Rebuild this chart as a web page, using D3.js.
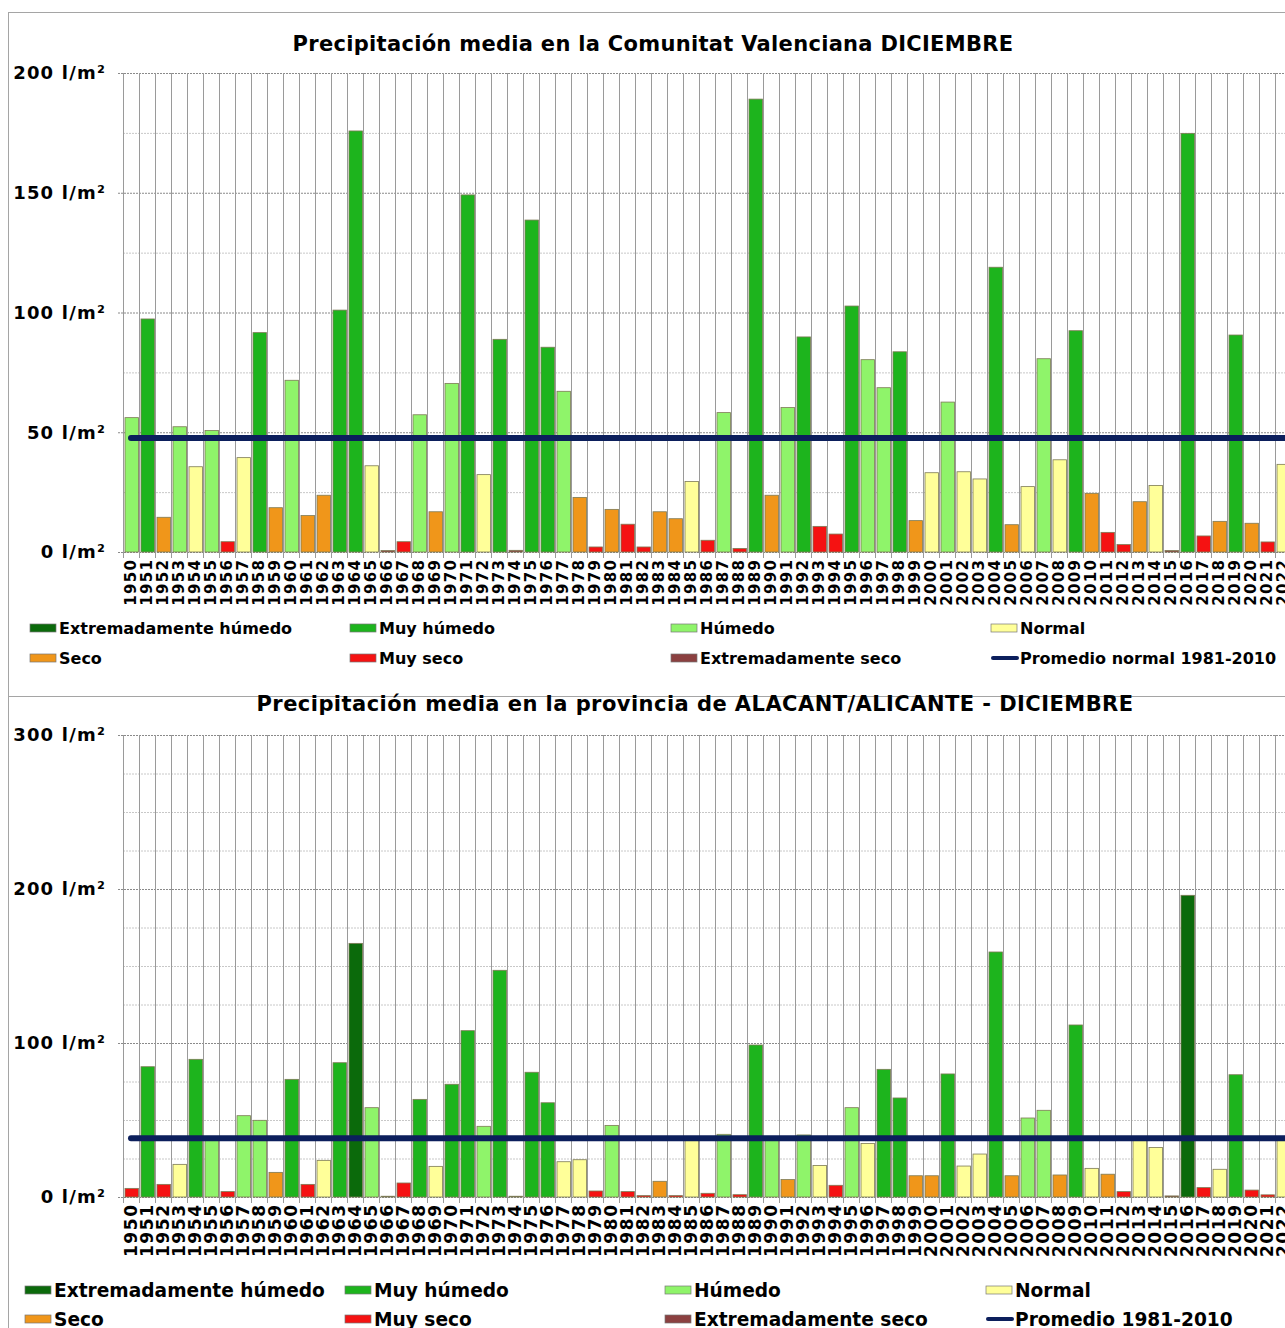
<!DOCTYPE html>
<html lang="es">
<head>
<meta charset="UTF-8">
<title>Precipitación media DICIEMBRE</title>
<script src="https://d3js.org/d3.v7.min.js"></script>
<style>
  body { margin: 0; overflow: hidden; background: #fff; }
  svg { display: block; font-family: "DejaVu Sans", Verdana, sans-serif; font-weight: bold; }
</style>
</head>
<body>
<svg id="chart" width="1300" height="1328"></svg>
<script>
// years shown on both charts (the right end is cut by the picture)
var years = [1950, 1951, 1952, 1953, 1954, 1955, 1956, 1957, 1958, 1959,
  1960, 1961, 1962, 1963, 1964, 1965, 1966, 1967, 1968, 1969,
  1970, 1971, 1972, 1973, 1974, 1975, 1976, 1977, 1978, 1979,
  1980, 1981, 1982, 1983, 1984, 1985, 1986, 1987, 1988, 1989,
  1990, 1991, 1992, 1993, 1994, 1995, 1996, 1997, 1998, 1999,
  2000, 2001, 2002, 2003, 2004, 2005, 2006, 2007, 2008, 2009,
  2010, 2011, 2012, 2013, 2014, 2015, 2016, 2017, 2018, 2019,
  2020, 2021, 2022];

var categories = ["Extremadamente húmedo", "Muy húmedo", "Húmedo", "Normal",
  "Seco", "Muy seco", "Extremadamente seco"];
var catCodes = ["EH", "MH", "H", "N", "S", "MS", "ES"];
var catColors = ["#0b6a0b", "#1db41d", "#8ff46a", "#ffff99", "#f0961a", "#f51212", "#8b4040"];

// Comunitat Valenciana, l/m2
var cvValues = [56.1, 97.3, 14.5, 52.3, 35.6, 50.7, 4.3, 39.4, 91.6, 18.5,
  71.7, 15.2, 23.7, 101.0, 175.8, 36.0, 0.6, 4.3, 57.3, 16.8,
  70.4, 149.1, 32.3, 88.8, 0.7, 138.6, 85.5, 67.1, 22.8, 2.1,
  17.8, 11.6, 2.1, 16.8, 13.9, 29.4, 4.9, 58.2, 1.5, 189.1,
  23.7, 60.3, 89.8, 10.7, 7.5, 102.7, 80.3, 68.6, 83.6, 13.1,
  33.1, 62.6, 33.5, 30.5, 118.9, 11.4, 27.3, 80.7, 38.5, 92.4,
  24.5, 8.2, 3.1, 21.0, 27.8, 0.6, 174.8, 6.7, 12.8, 90.6,
  12.0, 4.2, 36.6];
var cvClasses = ["H", "MH", "S", "H", "N", "H", "MS", "N", "MH", "S",
  "H", "S", "S", "MH", "MH", "N", "ES", "MS", "H", "S",
  "H", "MH", "N", "MH", "ES", "MH", "MH", "H", "S", "MS",
  "S", "MS", "MS", "S", "S", "N", "MS", "H", "MS", "MH",
  "S", "H", "MH", "MS", "MS", "MH", "H", "H", "MH", "S",
  "N", "H", "N", "N", "MH", "S", "N", "H", "N", "MH",
  "S", "MS", "MS", "S", "N", "ES", "MH", "MS", "S", "MH",
  "S", "MS", "N"];
var cvAverage = 47.6;

// Alacant/Alicante, l/m2
var alcValues = [5.6, 84.6, 8.2, 21.2, 89.4, 39.0, 3.5, 52.8, 49.8, 16.0,
  76.4, 8.2, 23.8, 87.2, 164.7, 58.0, 0.5, 9.1, 63.4, 19.9,
  73.2, 108.0, 45.9, 147.2, 0.5, 81.0, 61.2, 22.9, 24.2, 3.9,
  46.5, 3.5, 0.9, 10.2, 0.9, 37.5, 2.4, 40.7, 1.5, 98.7,
  39.0, 11.3, 40.3, 20.5, 7.6, 58.0, 34.8, 82.9, 64.3, 13.8,
  13.8, 79.9, 20.1, 27.9, 159.1, 13.8, 51.3, 56.3, 14.3, 111.7,
  18.6, 14.8, 3.5, 37.5, 32.2, 0.7, 195.9, 6.1, 18.0, 79.4,
  4.5, 1.4, 37.0];
var alcClasses = ["MS", "MH", "MS", "N", "MH", "H", "MS", "H", "H", "S",
  "MH", "MS", "N", "MH", "EH", "H", "ES", "MS", "MH", "N",
  "MH", "MH", "H", "MH", "ES", "MH", "MH", "N", "N", "MS",
  "H", "MS", "MS", "S", "MS", "N", "MS", "H", "MS", "MH",
  "H", "S", "H", "N", "MS", "H", "N", "MH", "MH", "S",
  "S", "MH", "N", "N", "MH", "S", "H", "H", "S", "MH",
  "N", "S", "MS", "N", "N", "ES", "EH", "MS", "N", "MH",
  "MS", "MS", "N"];
var alcAverage = 38.1;

var cvTicks = [0, 50, 100, 150, 200];
var alcTicks = [0, 100, 200, 300];

var FONT = "DejaVu Sans, Verdana, sans-serif";
var svg = d3.select("#chart");
var color = d3.scaleOrdinal().domain(catCodes).range(catColors);

var defs = svg.append("defs");
defs.append("filter").attr("id", "blur")
  .attr("x", "-5%").attr("y", "-300%").attr("width", "110%").attr("height", "700%")
  .append("feGaussianBlur").attr("stdDeviation", 2.5);

function drawChart(o) {
  var g = svg.append("g");

  // frame
  g.append("rect")
    .attr("x", 8.5).attr("y", o.frameTop + 0.5)
    .attr("width", 1400).attr("height", o.frameHeight)
    .attr("fill", "none").attr("stroke", "#a5a5a5");

  g.append("text")
    .attr("x", o.titleX).attr("y", o.titleY)
    .attr("text-anchor", "middle")
    .style("font-size", "21px")
    .style("letter-spacing", o.titleSpacing + "px")
    .text(o.title);

  var x = d3.scaleBand().domain(years).range([123, 123 + 16 * years.length]);
  var y = d3.scaleLinear().domain([0, o.yMax]).range([o.y0, o.yTop]);

  // horizontal grid every 25
  var minor = d3.range(25, o.yMax + 1, 25).filter(d => o.ticks.indexOf(d) < 0);
  var gridMinor = g.append("g").attr("transform", "translate(123,0)")
    .call(d3.axisLeft(y).tickValues(minor).tickSize(-1300).tickFormat(""));
  gridMinor.select(".domain").remove();
  gridMinor.selectAll("line").attr("stroke", "#c8c8c8").attr("stroke-dasharray", "2,1");

  var gridMajor = g.append("g").attr("transform", "translate(118,0)")
    .call(d3.axisLeft(y).tickValues(o.ticks).tickSize(-1300).tickFormat(""));
  gridMajor.select(".domain").remove();
  gridMajor.selectAll("line").attr("stroke", "#8a8a8a").attr("stroke-dasharray", "2,1");

  // vertical grid at band edges
  var edges = years.map(d => x(d)).concat([x(years[years.length - 1]) + x.bandwidth()]);
  g.append("g").selectAll("line").data(edges).enter().append("line")
    .attr("x1", d => d + 0.5).attr("x2", d => d + 0.5)
    .attr("y1", y(o.yMax)).attr("y2", o.y0 + 6)
    .attr("stroke", "#9a9a9a").attr("stroke-width", 1);

  // y labels
  var yAxis = g.append("g").attr("transform", "translate(123,0)")
    .call(d3.axisLeft(y).tickValues(o.ticks).tickSize(0).tickPadding(17)
      .tickFormat(d => d + " l/m²"))
    .attr("font-family", FONT).attr("font-size", null);
  yAxis.select(".domain").remove();
  yAxis.selectAll("text").style("font-size", "18px").attr("fill", "#000")
    .style("letter-spacing", "1.2px");

  // bars
  g.append("g").selectAll("rect").data(years).enter().append("rect")
    .attr("x", d => x(d) + 2)
    .attr("width", x.bandwidth() - 2.5)
    .attr("y", (d, i) => y(o.values[i]))
    .attr("height", (d, i) => o.y0 - y(o.values[i]))
    .attr("fill", (d, i) => color(o.classes[i]))
    .attr("stroke", "#7d7a55").attr("stroke-width", 0.8);

  // average line with soft shadow
  var ay = y(o.average);
  var ax = x(years[0]) + x.bandwidth() / 2;
  g.append("line").attr("x1", ax).attr("x2", 1400).attr("y1", ay).attr("y2", ay)
    .attr("stroke", "#5a5a5a").attr("stroke-width", 13).attr("opacity", 0.55)
    .attr("filter", "url(#blur)");
  g.append("line").attr("x1", ax).attr("x2", 1400).attr("y1", ay).attr("y2", ay)
    .attr("stroke", "#0c1f5c").attr("stroke-width", 6).attr("stroke-linecap", "round");

  // year labels
  var xAxis = g.append("g").attr("transform", "translate(0," + o.y0 + ")")
    .call(d3.axisBottom(x).tickSize(0))
    .attr("font-family", FONT).attr("font-size", null);
  xAxis.select(".domain").remove();
  xAxis.selectAll("text")
    .attr("transform", "rotate(-90)")
    .attr("text-anchor", "end")
    .attr("x", -8 + o.yearSpacing).attr("y", 0).attr("dy", "0.36em")
    .attr("fill", "#000")
    .style("font-size", o.yearSize + "px")
    .style("letter-spacing", o.yearSpacing + "px");

  // legend
  var legendItems = catCodes.map((c, i) => ({ code: c, label: categories[i] }))
    .concat([{ code: "AVG", label: o.avgLabel }]);
  var lg = g.append("g").selectAll("g").data(legendItems).enter().append("g")
    .attr("transform", (d, i) => "translate(" + o.legendX[i % 4] + "," + (i < 4 ? o.legendY[0] : o.legendY[1]) + ")");
  lg.filter(d => d.code !== "AVG").append("rect")
    .attr("x", 0).attr("y", -4).attr("width", 26).attr("height", 8)
    .attr("fill", d => color(d.code)).attr("stroke", "#777").attr("stroke-width", 0.7);
  lg.filter(d => d.code === "AVG").append("line")
    .attr("x1", 2).attr("x2", 26).attr("y1", 0).attr("y2", 0)
    .attr("stroke", "#0c1f5c").attr("stroke-width", 4).attr("stroke-linecap", "round");
  lg.append("text")
    .attr("x", 29).attr("y", 0).attr("dy", "0.36em")
    .style("font-size", o.legendSize + "px")
    .text(d => d.label);
}

drawChart({
  title: "Precipitación media en la Comunitat Valenciana DICIEMBRE",
  titleX: 653, titleY: 51, titleSpacing: 0.3,
  frameTop: 12, frameHeight: 684,
  values: cvValues, classes: cvClasses, average: cvAverage,
  yMax: 200, y0: 552, yTop: 73, ticks: cvTicks,
  yearSize: 15, yearSpacing: 1.3,
  avgLabel: "Promedio normal 1981-2010",
  legendX: [30, 350, 671, 991], legendY: [628, 658], legendSize: 16
});

drawChart({
  title: "Precipitación media en la provincia de ALACANT/ALICANTE - DICIEMBRE",
  titleX: 695, titleY: 711, titleSpacing: 0.45,
  frameTop: 696, frameHeight: 700,
  values: alcValues, classes: alcClasses, average: alcAverage,
  yMax: 300, y0: 1197, yTop: 735, ticks: alcTicks,
  yearSize: 17, yearSpacing: 1.6,
  avgLabel: "Promedio 1981-2010",
  legendX: [25, 345, 665, 986], legendY: [1290, 1319], legendSize: 18.6
});
</script>
</body>
</html>
